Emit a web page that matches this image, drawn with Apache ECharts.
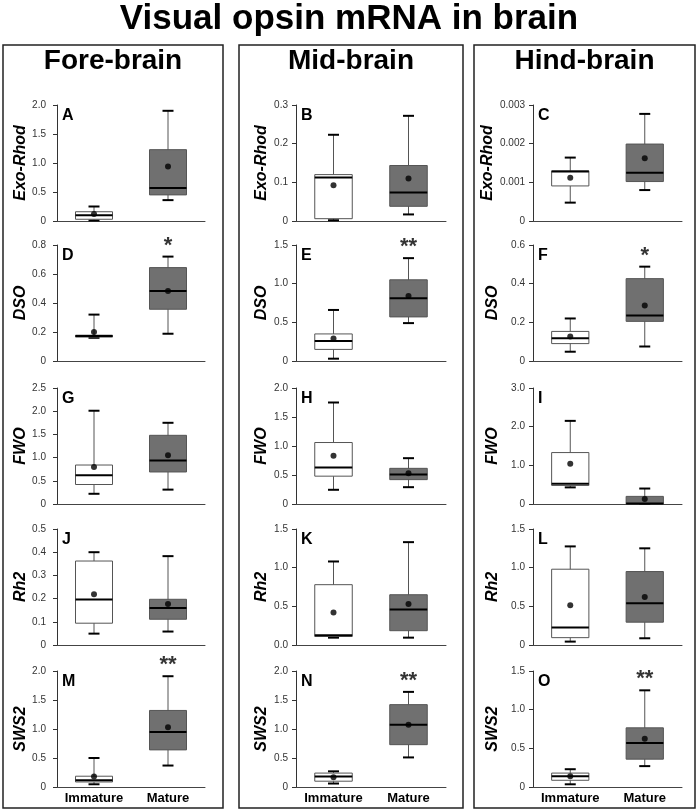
<!DOCTYPE html>
<html>
<head>
<meta charset="utf-8">
<script src="https://cdn.jsdelivr.net/npm/echarts@6/dist/echarts.min.js"></script>
<style>
  html, body { margin: 0; padding: 0; background: #fff; }
  #chart { width: 698px; height: 812px; }
</style>
</head>
<body>
<div id="chart"></div>
<script>
const categories = ['Immature', 'Mature']
const regions = ['Fore-brain', 'Mid-brain', 'Hind-brain']
const genes = ['Exo-Rhod', 'DSO', 'FWO', 'Rh2', 'SWS2']
const letters = ['A', 'B', 'C', 'D', 'E', 'F', 'G', 'H', 'I', 'J', 'K', 'L', 'M', 'N', 'O']

// box stats, panels A..O: [low, q1, median, q3, high]
const immatureBoxes = [
  [0.01, 0.03, 0.10, 0.16, 0.25],
  [0.002, 0.006, 0.1125, 0.12, 0.223],
  [0.000475, 0.000907, 0.00128, 0.001296, 0.00164],
  [0.16, 0.165, 0.172, 0.178, 0.32],
  [0.03, 0.15, 0.26, 0.35, 0.66],
  [0.048, 0.09, 0.118, 0.153, 0.22],
  [0.22, 0.42, 0.62, 0.84, 2.01],
  [0.245, 0.48, 0.63, 1.06, 1.75],
  [0.43, 0.48, 0.525, 1.33, 2.15],
  [0.049, 0.094, 0.196, 0.362, 0.40],
  [0.095, 0.11, 0.125, 0.78, 1.08],
  [0.044, 0.095, 0.225, 0.98, 1.275],
  [0.047, 0.087, 0.117, 0.186, 0.50],
  [0.06, 0.10, 0.18, 0.24, 0.27],
  [0.035, 0.087, 0.14, 0.18, 0.23],
]
const matureBoxes = [
  [0.36, 0.45, 0.57, 1.23, 1.90],
  [0.017, 0.038, 0.0736, 0.1435, 0.272],
  [0.0008, 0.00102, 0.001245, 0.00199, 0.00277],
  [0.188, 0.357, 0.483, 0.644, 0.72],
  [0.49, 0.57, 0.81, 1.05, 1.33],
  [0.075, 0.205, 0.235, 0.426, 0.488],
  [0.31, 0.69, 0.94, 1.48, 1.75],
  [0.29, 0.42, 0.51, 0.615, 0.79],
  [0, 0, 0.01, 0.197, 0.40],
  [0.058, 0.111, 0.159, 0.197, 0.383],
  [0.095, 0.185, 0.46, 0.65, 1.33],
  [0.087, 0.295, 0.54, 0.95, 1.25],
  [0.37, 0.64, 0.95, 1.32, 1.91],
  [0.51, 0.73, 1.075, 1.42, 1.64],
  [0.27, 0.36, 0.57, 0.765, 1.25],
]
const immatureMeans = [0.12, 0.0925, 0.00112, 0.20, 0.29, 0.127, 0.80, 0.83, 1.04, 0.219, 0.42, 0.515, 0.18, 0.17, 0.14]
const matureMeans = [0.94, 0.11, 0.00162, 0.483, 0.84, 0.287, 1.05, 0.53, 0.13, 0.177, 0.53, 0.62, 1.03, 1.075, 0.625]
const significance = ['', '', '', '*', '**', '*', '', '', '', '', '', '', '**', '**', '**']

const yMax = [2.0, 0.3, 0.003, 0.8, 1.5, 0.6, 2.5, 2.0, 3.0, 0.5, 1.5, 1.5, 2.0, 2.0, 1.5]
const yStep = [0.5, 0.1, 0.001, 0.2, 0.5, 0.2, 0.5, 0.5, 1.0, 0.1, 0.5, 0.5, 0.5, 0.5, 0.5]
const yTickLabels = [
  ['0', '0.5', '1.0', '1.5', '2.0'],
  ['0', '0.1', '0.2', '0.3'],
  ['0', '0.001', '0.002', '0.003'],
  ['0', '0.2', '0.4', '0.6', '0.8'],
  ['0', '0.5', '1.0', '1.5'],
  ['0', '0.2', '0.4', '0.6'],
  ['0', '0.5', '1.0', '1.5', '2.0', '2.5'],
  ['0', '0.5', '1.0', '1.5', '2.0'],
  ['0', '1.0', '2.0', '3.0'],
  ['0', '0.1', '0.2', '0.3', '0.4', '0.5'],
  ['0.0', '0.5', '1.0', '1.5'],
  ['0', '0.5', '1.0', '1.5'],
  ['0', '0.5', '1.0', '1.5', '2.0'],
  ['0', '0.5', '1.0', '1.5', '2.0'],
  ['0', '0.5', '1.0', '1.5'],
]

// 布局.
const FONT = '"Liberation Sans", Arial, sans-serif'
const colLeft = [57, 296, 533]
const colWidth = [148, 150, 149]
const rowTop = [105, 245, 388, 529, 671]
const plotHeight = 116
const nameGaps = [28, 26, 32]
const labelMargins = [11, 8, 8]
const panels = [[3, 223], [239, 463], [474, 695]]

const renderBox = (params, api) => {
  const x = api.value(0)
  const low = api.coord([x, api.value(1)])
  const q1 = api.coord([x, api.value(2)])
  const med = api.coord([x, api.value(3)])
  const q3 = api.coord([x, api.value(4)])
  const high = api.coord([x, api.value(5)])
  const bw = api.size([1, 0])[0] * 0.5
  const cap = 5.5
  const cx = low[0]
  return {
    type: 'group',
    children: [
      { type: 'line', shape: { x1: cx, y1: low[1], x2: cx, y2: high[1] }, style: { stroke: '#555', lineWidth: 1 } },
      { type: 'line', shape: { x1: cx - cap, y1: low[1], x2: cx + cap, y2: low[1] }, style: { stroke: '#000', lineWidth: 2 } },
      { type: 'line', shape: { x1: cx - cap, y1: high[1], x2: cx + cap, y2: high[1] }, style: { stroke: '#000', lineWidth: 2 } },
      {
        type: 'rect',
        shape: { x: cx - bw / 2, y: q3[1], width: bw, height: q1[1] - q3[1] },
        style: { fill: x === 0 ? '#fff' : '#707070', stroke: '#555', lineWidth: 1 },
      },
      { type: 'line', shape: { x1: cx - bw / 2, y1: med[1], x2: cx + bw / 2, y2: med[1] }, style: { stroke: '#000', lineWidth: 2 } },
    ],
  }
}

const grids = []
const xAxes = []
const yAxes = []
const series = []
const graphics = []

letters.forEach((letter, i) => {
  const row = Math.floor(i / 3)
  const col = i % 3
  grids.push({ left: colLeft[col], top: rowTop[row], width: colWidth[col], height: plotHeight })
  xAxes.push({
    type: 'category',
    gridIndex: i,
    data: categories,
    axisTick: { show: false },
    axisLine: { lineStyle: { color: '#444', width: 1 } },
    axisLabel: { show: row === 4, interval: 0, margin: 5, fontSize: 13, fontWeight: 'bold', color: '#000', fontFamily: FONT },
  })
  yAxes.push({
    type: 'value',
    gridIndex: i,
    min: 0,
    max: yMax[i],
    interval: yStep[i],
    name: genes[row],
    nameLocation: 'middle',
    nameGap: nameGaps[col],
    nameTextStyle: { fontSize: 16, fontWeight: 'bold', fontStyle: 'italic', color: '#000', fontFamily: FONT },
    splitLine: { show: false },
    axisLine: { show: true, lineStyle: { color: '#333', width: 1 } },
    axisTick: { show: true, length: 4, lineStyle: { color: '#333' } },
    axisLabel: {
      margin: labelMargins[col],
      fontSize: 10,
      color: '#333',
      fontFamily: FONT,
      formatter: (v) => yTickLabels[i][Math.round(v / yStep[i])],
    },
  })
  series.push({
    type: 'custom',
    xAxisIndex: i,
    yAxisIndex: i,
    renderItem: renderBox,
    encode: { x: 0, y: [1, 2, 3, 4, 5] },
    data: [[0, ...immatureBoxes[i]], [1, ...matureBoxes[i]]],
    z: 2,
    silent: true,
  })
  series.push({
    type: 'scatter',
    xAxisIndex: i,
    yAxisIndex: i,
    symbolSize: 6,
    itemStyle: { color: '#000' },
    data: [[0, immatureMeans[i]], [1, matureMeans[i]]],
    z: 3,
    silent: true,
  })
  if (significance[i]) {
    series.push({
      type: 'scatter',
      xAxisIndex: i,
      yAxisIndex: i,
      symbolSize: 0,
      data: [[1, matureBoxes[i][4]]],
      label: { show: true, position: 'top', distance: 0, formatter: significance[i], fontSize: 22, fontWeight: 'bold', color: '#000', fontFamily: FONT },
      z: 4,
      silent: true,
    })
  }
  graphics.push({
    type: 'text',
    left: colLeft[col] + 5,
    top: rowTop[row] + 3,
    style: { text: letter, font: `bold 16px ${FONT}`, fill: '#000' },
  })
})

panels.forEach(([x1, x2], c) => {
  graphics.push({
    type: 'rect',
    shape: { x: x1, y: 45, width: x2 - x1, height: 763 },
    style: { fill: 'none', stroke: '#222', lineWidth: 1.5 },
    z: -1,
  })
  graphics.push({
    type: 'text',
    x: (x1 + x2) / 2,
    y: 61,
    style: { text: regions[c], font: `bold 28px ${FONT}`, fill: '#000', textAlign: 'center', textVerticalAlign: 'middle' },
  })
})

graphics.push({
  type: 'text',
  x: 349,
  y: 19,
  style: { text: 'Visual opsin mRNA in brain', font: `bold 35px ${FONT}`, fill: '#000', textAlign: 'center', textVerticalAlign: 'middle' },
})

const chart = echarts.init(document.getElementById('chart'))
chart.setOption({
  animation: false,
  grid: grids,
  xAxis: xAxes,
  yAxis: yAxes,
  series,
  graphic: graphics,
})
</script>
</body>
</html>
